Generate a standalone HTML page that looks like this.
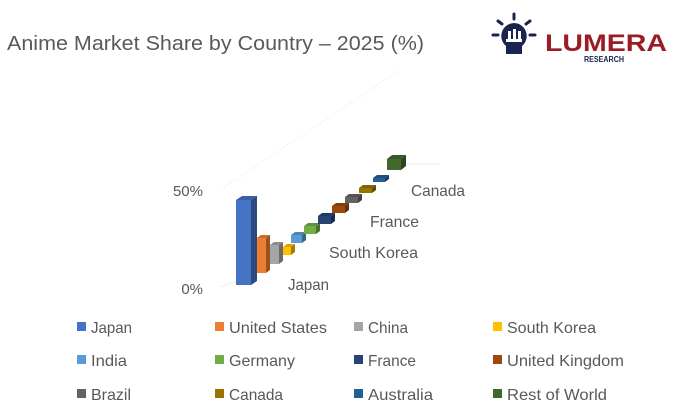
<!DOCTYPE html>
<html><head><meta charset="utf-8"><style>
body{margin:0;background:#fff;}
svg{display:block;font-family:"Liberation Sans",sans-serif;}
</style></head><body>
<svg width="679" height="412" viewBox="0 0 679 412" xmlns="http://www.w3.org/2000/svg">
<text x="7" y="50" font-size="20" fill="#595959" textLength="417" lengthAdjust="spacingAndGlyphs">Anime Market Share by Country – 2025 (%)</text>
<g>
<rect x="488" y="8" width="190" height="70" fill="#fff"/>
<g stroke="#1b2450" stroke-width="3" stroke-linecap="round">
<line x1="514" y1="14" x2="514" y2="19"/><line x1="498" y1="21" x2="502" y2="24"/><line x1="530" y1="21" x2="526" y2="24"/>
<line x1="493" y1="35" x2="498" y2="35"/><line x1="535" y1="35" x2="530" y2="35"/>
</g>
<path d="M514 23 a13 13 0 0 1 8 23 l0 8 l-16 0 l0 -8 a13 13 0 0 1 8 -23z" fill="#1b2450"/>
<rect x="508" y="31" width="3" height="9" fill="#fff"/><rect x="513" y="29" width="3" height="11" fill="#fff"/><rect x="518" y="31" width="3" height="9" fill="#fff"/>
<rect x="506" y="39" width="16" height="3" fill="#fff"/>
<text x="545" y="51" font-size="24" fill="#9b1c24" font-weight="bold" textLength="122" lengthAdjust="spacingAndGlyphs">LUMERA</text>
<text x="584" y="62" font-size="8" fill="#1b2450" font-weight="bold" textLength="40" lengthAdjust="spacingAndGlyphs">RESEARCH</text>
</g>
<line x1="220" y1="190" x2="400" y2="70" stroke="#eeeeee" stroke-width="1" stroke-dasharray="2,2"/>
<line x1="220" y1="287" x2="240" y2="280" stroke="#eeeeee"/>
<line x1="405" y1="164" x2="440" y2="164" stroke="#eeeeee"/>
<text x="203" y="196" font-size="15" fill="#595959" text-anchor="end">50%</text>
<text x="203" y="294" font-size="15" fill="#595959" text-anchor="end">0%</text>
<g id="bars"></g>
<g font-size="16" fill="#595959">
<text x="288" y="290" textLength="41" lengthAdjust="spacingAndGlyphs">Japan</text>
<text x="329" y="258" textLength="89" lengthAdjust="spacingAndGlyphs">South Korea</text>
<text x="370" y="227" textLength="49" lengthAdjust="spacingAndGlyphs">France</text>
<text x="411" y="196" textLength="54" lengthAdjust="spacingAndGlyphs">Canada</text>
</g>
<g font-size="16" fill="#595959" id="legend"></g>
</svg>
<script>
const NS="http://www.w3.org/2000/svg";
function el(t,a,p){const e=document.createElementNS(NS,t);for(const k in a)e.setAttribute(k,a[k]);p.appendChild(e);return e;}
function shade(c,f){const n=parseInt(c.slice(1),16);let r=n>>16,g=(n>>8)&255,b=n&255;return`rgb(${Math.round(r*f)},${Math.round(g*f)},${Math.round(b*f)})`;}
const bars=[
["#4472c4",236,200,15,85,6,4],
["#ed7d31",257,238,9,35,4,3],
["#a5a5a5",270,245,9,19,4,3],
["#ffc000",283,247,8,8,4,3],
["#5b9bd5",291,235,11,8,4,3],
["#70ad47",304,226,12,8,4,3],
["#264478",318,216,13,8,4,3],
["#9e480e",332,206,13,7,4,3],
["#636363",345,197,13,6,4,3],
["#997300",359,188,13,5,4,3],
["#255e91",373,178,12,4,4,3],
["#43682b",387,159,14,11,5,4]
];
const g=document.getElementById("bars");
for(const[c,x,y,w,h,dx,dy] of bars){
el("polygon",{points:`${x},${y} ${x+dx},${y-dy} ${x+w+dx},${y-dy} ${x+w},${y}`,fill:shade(c,0.85)},g);
el("polygon",{points:`${x+w},${y} ${x+w+dx},${y-dy} ${x+w+dx},${y+h-dy} ${x+w},${y+h}`,fill:shade(c,0.65)},g);
el("rect",{x,y,width:w,height:h,fill:c},g);
}
const leg=[["Japan","#4472c4",41],["United States","#ed7d31",98],["China","#a5a5a5",40],["South Korea","#ffc000",89],["India","#5b9bd5",36],["Germany","#70ad47",66],["France","#264478",48],["United Kingdom","#9e480e",117],["Brazil","#636363",40],["Canada","#997300",54],["Australia","#255e91",65],["Rest of World","#43682b",100]];
const L=document.getElementById("legend");const cols=[77,215,354,493],rows=[327,360,394];
leg.forEach(([n,c,w],i)=>{const x=cols[i%4],y=rows[Math.floor(i/4)];
el("rect",{x,y:y-5,width:9,height:9,fill:c},L);
const t=el("text",{x:x+14,y:y+6,textLength:w,lengthAdjust:"spacingAndGlyphs"},L);t.textContent=n;});
</script>
</body></html>
